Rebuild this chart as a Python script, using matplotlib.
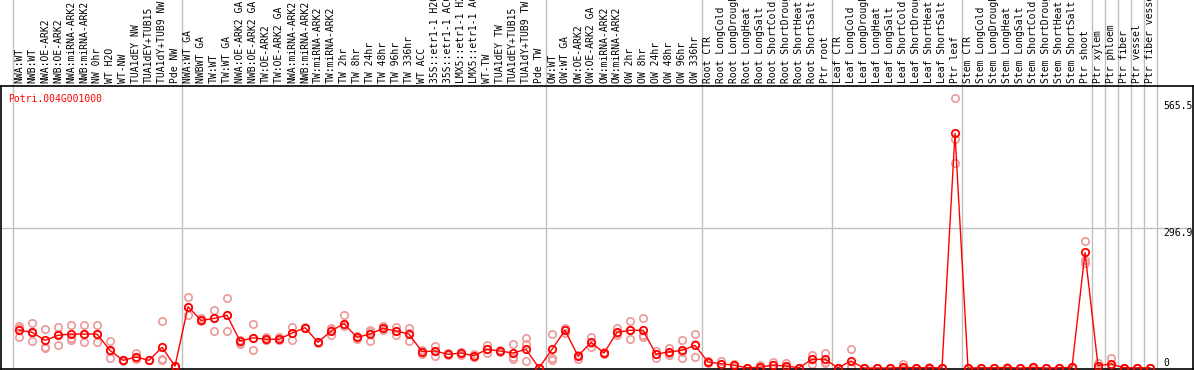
import numpy as np
import matplotlib
matplotlib.use('Agg')
import matplotlib.pyplot as plt

plt.rcParams['font.family'] = ['DejaVu Sans Mono']

gene = 'Potri.004G001000'

# sample labels, grouped (groups are separated by grey lines)
groups = [
    ['NWA:WT', 'NWB:WT', 'NWA:OE-ARK2', 'NWB:OE-ARK2', 'NWA:miRNA-ARK2', 'NWB:miRNA-ARK2',
     'NW 0hr', 'WT H2O', 'WT-NW', 'TUA1dEY NW', 'TUA1dEY+TUB15', 'TUA1dY+TUB9 NW', 'Pde NW'],
    ['NWA:WT GA', 'NWBWT GA', 'TW:WT', 'TW:WT GA', 'NWA:OE-ARK2 GA', 'NWB:OE-ARK2 GA',
     'TW:OE-ARK2', 'TW:OE-ARK2 GA', 'NWA:miRNA-ARK2', 'NWB:miRNA-ARK2', 'TW:miRNA-ARK2',
     'TW:miRNA-ARK2', 'TW 2hr', 'TW 8hr', 'TW 24hr', 'TW 48hr', 'TW 96hr', 'TW 336hr',
     'WT ACC', '35S::etr1-1 H2O', '35S::etr1-1 ACC', 'LMX5::etr1-1 H2O', 'LMX5::etr1-1 ACC',
     'WT-TW', 'TUA1dEY TW', 'TUA1dEY+TUB15', 'TUA1dY+TUB9 TW', 'Pde TW'],
    ['OW:WT', 'OW:WT GA', 'OW:OE-ARK2', 'OW:OE-ARK2 GA', 'OW:miRNA-ARK2', 'OW:miRNA-ARK2',
     'OW 2hr', 'OW 8hr', 'OW 24hr', 'OW 48hr', 'OW 96hr', 'OW 336hr'],
    ['Root CTR', 'Root LongCold', 'Root LongDrought', 'Root LongHeat', 'Root LongSalt',
     'Root ShortCold', 'Root ShortDrought', 'Root ShortHeat', 'Root ShortSalt', 'Ptr root'],
    ['Leaf CTR', 'Leaf LongCold', 'Leaf LongDrought', 'Leaf LongHeat', 'Leaf LongSalt',
     'Leaf ShortCold', 'Leaf ShortDrought', 'Leaf ShortHeat', 'Leaf ShortSalt', 'Ptr leaf'],
    ['Stem CTR', 'Stem LongCold', 'Stem LongDrought', 'Stem LongHeat', 'Stem LongSalt',
     'Stem ShortCold', 'Stem ShortDrought', 'Stem ShortHeat', 'Stem ShortSalt', 'Ptr shoot'],
    ['Ptr xylem'], ['Ptr phloem'], ['Ptr fiber'], ['Ptr vessel'], ['Ptr fiber vessel'],
]

# mean expression
mean = [80.6, 75.6, 58.7, 69.3, 72, 72, 72, 37.5, 16.3, 23.3, 16.3, 43.9, 4,
        130, 101, 105, 112, 57, 64, 61, 61, 74, 85.5, 54.5, 78.5, 94, 65, 72, 84, 78.5, 72,
        34.6, 36, 29, 31.8, 26, 39.6, 36, 31.8, 39.6, 0,
        39.6, 80, 25.4, 54.5, 31.8, 75.6, 80, 80, 29.7, 34, 37.5, 48,
        12.7, 9.2, 5.7, 0.5, 1.5, 6.4, 4.2, 0.5, 18.4, 18.4,
        0.5, 14.8, 0, 0, 0, 1.5, 0.5, 1, 0, 497.6,
        0, 0.5, 0.5, 1, 0, 1.5, 0, 0.5, 1.5, 245,
        5, 8.5, 0.5, 0.5, 0.5]

# replicates
rep1 = [89, 95, 82, 86, 90.5, 90.5, 90.5, 58, 17, 31, 17, 99, 5,
        150, 106.7, 124, 148, 60, 92.6, 65, 65, 87.6, 87, 56, 85.5, 112, 65, 80.6, 89, 87.6, 84,
        38, 47, 31, 33, 30, 48, 38, 51, 63, 0,
        71.5, 85.5, 28, 66, 33, 84, 99, 106, 37, 43, 59, 71.5,
        15, 15, 8, 1, 6.4, 13, 11, 1, 28, 31.8,
        1, 39.6, 0, 0, 0, 8.5, 1, 2, 0, 572,
        0, 1, 1, 1.5, 0, 2, 0, 1, 2, 268.7,
        10, 21, 1, 1, 1]
rep2 = [85, 75, 45, 72, 63, 72, 72, 37, 16, 23, 16, 18.4, 4,
        130, 99.7, 105, 112, 53.6, 64, 59, 59, 75, 85, 54, 80, 94, 68, 77, 84, 78, 74,
        34.6, 36, 29, 32, 24, 39.6, 36, 24, 51, 0,
        22, 80, 28, 54, 32, 75, 80, 70, 29.7, 31, 33, 50,
        12.7, 9, 5.7, 0.5, 0, 6, 2, 0, 18.4, 13.4,
        0, 5, 0, 0, 0, 0, 0, 1, 0, 485,
        0, 0, 0, 1, 0, 1.5, 0, 0.5, 1.5, 229,
        5, 4, 0, 0, 0]
rep3 = [65, 58, 42, 49, 59, 55, 55, 22, 15, 20, 16, 16, 3,
        112, 101, 78, 78, 51, 37.5, 59, 59, 59, 84, 52, 70, 90, 61, 58, 80.6, 70, 58,
        30, 25.4, 27, 28, 24, 31, 34, 20, 15, 0,
        18, 75, 20, 45, 30, 70, 61, 65, 20.5, 27.6, 20.5, 22.6,
        10, 2, 2, 0, 0, 0, 0, 0, 8.5, 10,
        0, 0, 0, 0, 0, 0, 0, 0, 0, 435,
        0, 0, 0, 0.5, 0, 1, 0, 0, 1, 223,
        0, 0, 0, 0, 0]

yticks = [0, 296.9, 565.5]

labels = [s for g in groups for s in g]
x = np.arange(len(labels))
bounds = np.cumsum([0] + [len(g) for g in groups]) - 0.5

W, H = 1194, 370
fig = plt.figure(figsize=(W / 100, H / 100), dpi=100)
xlim = ((1 - 19) / 13, (W - 1 - 19) / 13)

# label strip on top
axl = fig.add_axes([1 / W, 1 - 86 / H, (W - 2) / W, 86 / H])
axl.set_xlim(xlim)
axl.set_ylim(0, 1)
axl.set_axis_off()
for b in bounds:
    axl.axvline(b, color='#c0c0c0', lw=1)
for xi, s in zip(x, labels):
    axl.text(xi, 0.035, s, rotation=90, ha='center', va='bottom', fontsize=7, color='black')

# plot area
ax = fig.add_axes([1 / W, 1 / H, (W - 2) / W, 283 / H])
ax.set_xlim(xlim)
ax.set_ylim(-2.1, 598)
ax.set_xticks([])
ax.set_yticks([])
for sp in ax.spines.values():
    sp.set_color('black')
    sp.set_linewidth(1.2)
for b in bounds:
    ax.axvline(b, color='#c0c0c0', lw=1)
ax.axhline(yticks[1], color='#c0c0c0', lw=1)

for r in (rep1, rep2, rep3):
    ax.plot(x, r, 'o', mfc='none', mec='#ee9999', ms=5.3, mew=1.2, clip_on=False, zorder=2)
ax.plot(x, mean, '-', color='#ff0000', lw=1, zorder=3)
ax.plot(x, mean, 'o', mfc='none', mec='#ff0000', ms=5.3, mew=1.3, clip_on=False, zorder=4)

for v in yticks:
    ax.text(88.0, v, ('%g' % v) if v else '0', fontsize=7,
            va='bottom' if v == 0 else 'top', ha='left')
ax.text(0.006, 0.955, gene, transform=ax.transAxes, color='red', fontsize=7, va='center')

fig.savefig('out.png', dpi=100)
